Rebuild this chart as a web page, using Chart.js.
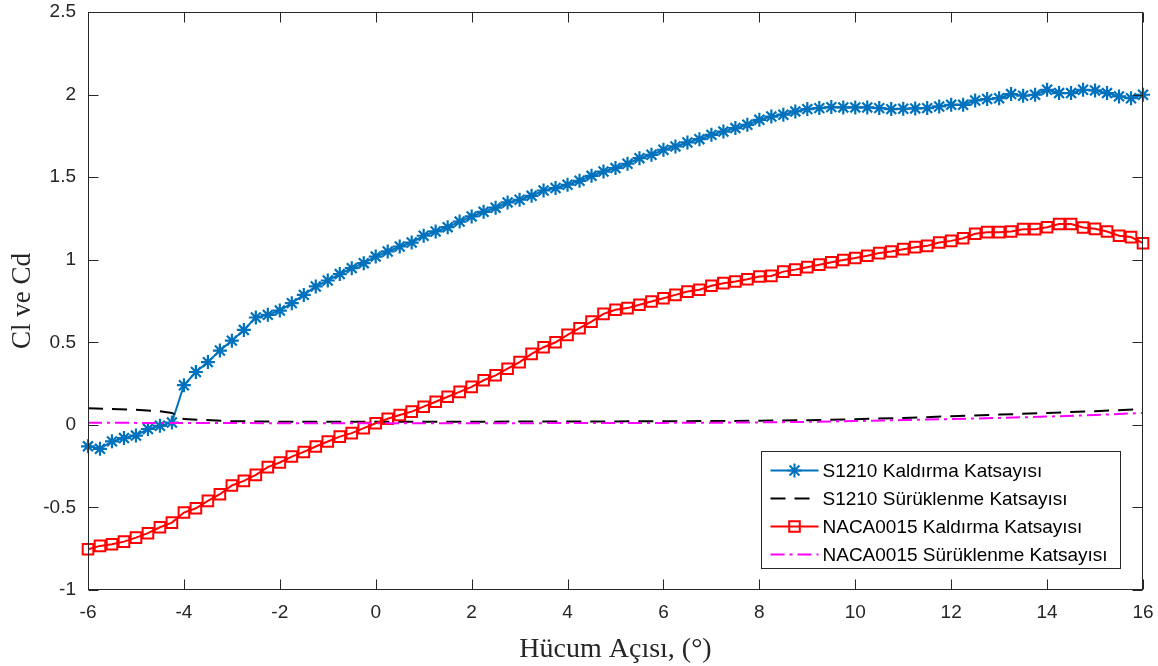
<!DOCTYPE html>
<html>
<head>
<meta charset="utf-8">
<title>Cl ve Cd</title>
<script src="https://cdn.jsdelivr.net/npm/chart.js@4.4.1/dist/chart.umd.min.js"></script>
<style>
  html, body { margin: 0; padding: 0; background: #ffffff; }
  #wrap { width: 1158px; height: 666px; }
</style>
</head>
<body>
<div id="wrap"><canvas id="clcdChart" width="1158" height="666"></canvas></div>
<script>
// hücum açısı (derece), 0.25 adım
const angles = [
  -6, -5.75, -5.5, -5.25, -5, -4.75, -4.5, -4.25,
  -4, -3.75, -3.5, -3.25, -3, -2.75, -2.5, -2.25,
  -2, -1.75, -1.5, -1.25, -1, -0.75, -0.5, -0.25,
  0, 0.25, 0.5, 0.75, 1, 1.25, 1.5, 1.75,
  2, 2.25, 2.5, 2.75, 3, 3.25, 3.5, 3.75,
  4, 4.25, 4.5, 4.75, 5, 5.25, 5.5, 5.75,
  6, 6.25, 6.5, 6.75, 7, 7.25, 7.5, 7.75,
  8, 8.25, 8.5, 8.75, 9, 9.25, 9.5, 9.75,
  10, 10.25, 10.5, 10.75, 11, 11.25, 11.5, 11.75,
  12, 12.25, 12.5, 12.75, 13, 13.25, 13.5, 13.75,
  14, 14.25, 14.5, 14.75, 15, 15.25, 15.5, 15.75,
  16,
];

const s1210Cl = [
  -0.13, -0.145, -0.10, -0.08, -0.065, -0.025, -0.006, 0.014,
  0.24, 0.32, 0.38, 0.45, 0.51, 0.575, 0.65, 0.666,
  0.692, 0.737, 0.787, 0.838, 0.874, 0.913, 0.949, 0.979,
  1.019, 1.05, 1.08, 1.104, 1.145, 1.171, 1.197, 1.231,
  1.262, 1.29, 1.315, 1.347, 1.363, 1.387, 1.419, 1.434,
  1.454, 1.478, 1.508, 1.534, 1.555, 1.581, 1.615, 1.635,
  1.666, 1.686, 1.71, 1.73, 1.756, 1.776, 1.797, 1.817,
  1.847, 1.867, 1.878, 1.898, 1.912, 1.918, 1.924, 1.922,
  1.922, 1.922, 1.918, 1.912, 1.914, 1.916, 1.918, 1.928,
  1.938, 1.938, 1.964, 1.973, 1.978, 2.003, 1.993, 1.999,
  2.029, 2.009, 2.009, 2.029, 2.025, 2.009, 1.989, 1.978,
  1.999,
];

const naca0015Cl = [
  -0.753, -0.733, -0.723, -0.707, -0.683, -0.656, -0.62, -0.592,
  -0.531, -0.505, -0.46, -0.42, -0.367, -0.339, -0.303, -0.256,
  -0.228, -0.192, -0.164, -0.131, -0.101, -0.071, -0.05, -0.02,
  0.01, 0.037, 0.06, 0.08, 0.11, 0.14, 0.17, 0.20,
  0.23, 0.27, 0.30, 0.34, 0.38, 0.43, 0.47, 0.50,
  0.545, 0.585, 0.625, 0.672, 0.697, 0.707, 0.727, 0.747,
  0.767, 0.787, 0.807, 0.818, 0.842, 0.858, 0.868, 0.882,
  0.898, 0.902, 0.928, 0.94, 0.955, 0.97, 0.985, 0.998,
  1.01, 1.024, 1.04, 1.05, 1.064, 1.076, 1.084, 1.104,
  1.114, 1.13, 1.157, 1.167, 1.167, 1.171, 1.185, 1.185,
  1.197, 1.216, 1.216, 1.195, 1.187, 1.171, 1.145, 1.137,
  1.10,
];

// sürüklenme katsayıları (işaretsiz çizgiler)
const dragAngles = [-6, -5, -4.5, -4.25, -4, -3, -2, -1, 0, 1, 2, 3, 4, 5, 6, 7, 8, 9, 10, 11, 12, 13, 14, 15, 16];
const s1210Cd = [0.100, 0.092, 0.082, 0.072, 0.035, 0.022, 0.019, 0.019, 0.019, 0.019, 0.019, 0.020, 0.020, 0.021, 0.022, 0.023, 0.025, 0.028, 0.034, 0.042, 0.052, 0.062, 0.072, 0.083, 0.095];
const naca0015Cd = [0.013, 0.012, 0.012, 0.012, 0.011, 0.011, 0.010, 0.010, 0.010, 0.010, 0.010, 0.010, 0.011, 0.011, 0.012, 0.013, 0.015, 0.018, 0.023, 0.029, 0.035, 0.042, 0.050, 0.060, 0.072];

const xTicks = [-6, -4, -2, 0, 2, 4, 6, 8, 10, 12, 14, 16];
const yTicks = [-1, -0.5, 0, 0.5, 1, 1.5, 2, 2.5];
const seriesLabels = [
  'S1210 Kaldırma Katsayısı',
  'S1210 Sürüklenme Katsayısı',
  'NACA0015 Kaldırma Katsayısı',
  'NACA0015 Sürüklenme Katsayısı',
];
const xTitle = 'Hücum Açısı, (°)';
const yTitle = 'Cl ve Cd';

const axisColor = '#262626';
const toPoints = (xs, ys) => xs.map((x, i) => ({ x: x, y: ys[i] }));

// MATLAB tarzı kutu, içe dönük tik çizgileri ve lejant
const matlabFrame = {
  id: 'matlabFrame',
  afterDatasetsDraw(chart) {
    const { ctx, chartArea: a } = chart;
    const xs = chart.scales.x;
    const ys = chart.scales.y;
    const L = Math.round(a.left) + 0.5;
    const R = Math.round(a.right) - 0.5;
    const T = Math.round(a.top) + 0.5;
    const B = Math.round(a.bottom) - 0.5;
    const tick = 10;

    ctx.save();
    ctx.strokeStyle = axisColor;
    ctx.lineWidth = 1;
    ctx.setLineDash([]);
    ctx.strokeRect(L, T, R - L, B - T);
    ctx.beginPath();
    xTicks.forEach((v) => {
      const px = Math.round(xs.getPixelForValue(v)) + 0.5;
      ctx.moveTo(px, B); ctx.lineTo(px, B - tick);
      ctx.moveTo(px, T); ctx.lineTo(px, T + tick);
    });
    yTicks.forEach((v) => {
      const py = Math.round(ys.getPixelForValue(v)) + 0.5;
      ctx.moveTo(L, py); ctx.lineTo(L + tick, py);
      ctx.moveTo(R, py); ctx.lineTo(R - tick, py);
    });
    ctx.stroke();

    // lejant kutusu
    const boxW = 359;
    const boxH = 117;
    const bx = Math.round(a.right - 23 - boxW) + 0.5;
    const by = Math.round(a.bottom - 22 - boxH) + 0.5;
    ctx.fillStyle = '#ffffff';
    ctx.fillRect(bx, by, boxW, boxH);
    ctx.strokeStyle = axisColor;
    ctx.strokeRect(bx, by, boxW, boxH);

    ctx.font = '19px "Liberation Sans", Arial, sans-serif';
    ctx.textBaseline = 'middle';
    chart.data.datasets.forEach((ds, i) => {
      const rowY = by + 19 + i * 28;
      const x0 = bx + 9;
      const x1 = bx + 57;
      ctx.strokeStyle = ds.borderColor;
      ctx.lineWidth = ds.borderWidth;
      ctx.setLineDash(ds.borderDash || []);
      ctx.beginPath();
      ctx.moveTo(x0, rowY);
      ctx.lineTo(x1, rowY);
      ctx.stroke();
      ctx.setLineDash([]);
      if (ds.pointRadius > 0) {
        ctx.strokeStyle = ds.pointBorderColor;
        ctx.fillStyle = 'rgba(0,0,0,0)';
        Chart.helpers.drawPoint(ctx, {
          pointStyle: ds.pointStyle,
          radius: ds.pointRadius,
          borderWidth: ds.pointBorderWidth,
          rotation: 0,
        }, (x0 + x1) / 2, rowY);
      }
      ctx.fillStyle = '#000000';
      ctx.fillText(ds.label, bx + 61, rowY + 1);
    });
    ctx.restore();
  },
};

const chart = new Chart(document.getElementById('clcdChart').getContext('2d'), {
  type: 'line',
  data: {
    datasets: [
      {
        label: seriesLabels[0],
        data: toPoints(angles, s1210Cl),
        borderColor: '#0072BD',
        borderWidth: 2,
        pointStyle: 'star',
        pointRadius: 7,
        pointBorderColor: '#0072BD',
        pointBorderWidth: 2.2,
        pointBackgroundColor: 'rgba(0,0,0,0)',
        order: 4,
      },
      {
        label: seriesLabels[1],
        data: toPoints(dragAngles, s1210Cd),
        borderColor: '#000000',
        borderWidth: 2,
        borderDash: [15, 9],
        pointRadius: 0,
        order: 3,
      },
      {
        label: seriesLabels[2],
        data: toPoints(angles, naca0015Cl),
        borderColor: '#FF0000',
        borderWidth: 2,
        pointStyle: 'rect',
        pointRadius: 7.5,
        pointBorderColor: '#FF0000',
        pointBorderWidth: 2,
        pointBackgroundColor: 'rgba(0,0,0,0)',
        order: 2,
      },
      {
        label: seriesLabels[3],
        data: toPoints(dragAngles, naca0015Cd),
        borderColor: '#FF00FF',
        borderWidth: 2,
        borderDash: [14, 5, 3, 5],
        pointRadius: 0,
        order: 1,
      },
    ],
  },
  options: {
    responsive: false,
    animation: false,
    devicePixelRatio: 1,
    layout: { padding: { top: 12, right: 15, bottom: 0, left: 0 } },
    elements: { line: { tension: 0 } },
    datasets: { line: { clip: false } },
    plugins: {
      legend: { display: false },
      tooltip: { enabled: false },
    },
    scales: {
      x: {
        type: 'linear',
        min: -6,
        max: 16,
        afterBuildTicks: (s) => { s.ticks = xTicks.map((v) => ({ value: v })); },
        afterFit: (s) => { s.height = 76; s.paddingLeft = 0; s.paddingRight = 0; },
        grid: { display: false, drawTicks: false },
        border: { display: false },
        ticks: {
          padding: 11,
          color: axisColor,
          font: { family: '"Liberation Sans", Arial, sans-serif', size: 19 },
          maxRotation: 0,
          callback: (v) => String(v),
        },
        title: {
          display: true,
          text: xTitle,
          color: axisColor,
          font: { family: '"Liberation Serif", "Times New Roman", serif', size: 28 },
          padding: { top: 0, bottom: 0 },
        },
      },
      y: {
        type: 'linear',
        min: -1,
        max: 2.5,
        afterBuildTicks: (s) => { s.ticks = yTicks.map((v) => ({ value: v })); },
        afterFit: (s) => { s.width = 88; s.paddingTop = 0; s.paddingBottom = 0; },
        grid: { display: false, drawTicks: false },
        border: { display: false },
        ticks: {
          padding: 12,
          color: axisColor,
          font: { family: '"Liberation Sans", Arial, sans-serif', size: 19 },
          callback: (v) => String(v),
        },
        title: {
          display: true,
          text: yTitle,
          color: axisColor,
          font: { family: '"Liberation Serif", "Times New Roman", serif', size: 27 },
          padding: { top: 7, bottom: 0 },
        },
      },
    },
  },
  plugins: [matlabFrame],
});
</script>
</body>
</html>
